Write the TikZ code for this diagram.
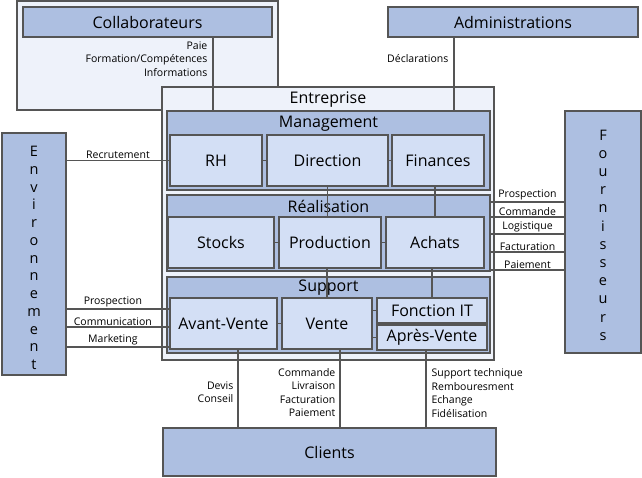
\documentclass[tikz,border=0pt]{standalone}
\usepackage{fontspec}
\setmainfont{Open Sans}
\usepackage{tikz}
\usetikzlibrary{positioning}

\definecolor{paleblue}{HTML}{EEF2FA}
\definecolor{midblue}{HTML}{ADBFE1}
\definecolor{lightblue}{HTML}{D3DFF5}
\definecolor{edgegray}{HTML}{555555}

\begin{document}
\begin{tikzpicture}[
    x=1pt, y=-1pt,
    outerbox/.style={draw=edgegray, fill=paleblue, line width=1.3pt, inner sep=0pt},
    groupbox/.style={draw=edgegray, fill=midblue, line width=1.3pt, inner sep=0pt, font=\fontsize{16}{18}\selectfont},
    unitbox/.style={draw=edgegray, fill=lightblue, line width=1.3pt, inner sep=0pt, minimum height=51pt, font=\fontsize{16}{18}\selectfont},
    halfbox/.style={unitbox, minimum height=25pt},
    grouptitle/.style={font=\fontsize{16}{18}\selectfont, inner sep=0pt, text height=12pt, text depth=3pt},
    lettercol/.style={align=center, inner sep=0pt},
    linklabel/.style={font=\fontsize{10.5}{13.5}\selectfont, inner sep=1pt},
    link/.style={draw=edgegray, line width=1.3pt}
]
\useasboundingbox (0,0) rectangle (642,477);

% Outer boxes
\node[outerbox, minimum width=261pt, minimum height=109pt] (collab) at (147.5,55.5) {};
\node[outerbox, minimum width=332pt, minimum height=273pt] (entreprise) at (328,223.5) {};
\node[grouptitle, below=5pt of entreprise.north] {Entreprise};

% Partners
\node[groupbox, minimum width=249pt, minimum height=30pt] (collabhead) at (147.5,22) {Collaborateurs};
\node[groupbox, minimum width=250pt, minimum height=30pt] (adminhead) at (513,22) {Administrations};
\node[groupbox, minimum width=64pt, minimum height=242pt] (environnement) at (34,254) {};
\node[lettercol, font=\fontsize{14.5}{17.75}\selectfont] at ([yshift=-4pt]environnement.center) {E\\n\\v\\i\\r\\o\\n\\n\\e\\m\\e\\n\\t};
\node[groupbox, minimum width=76pt, minimum height=242pt] (fournisseurs) at (603,232) {};
\node[lettercol, font=\fontsize{14.5}{18.2}\selectfont] at ([yshift=-3pt]fournisseurs.center) {F\\o\\u\\r\\n\\i\\s\\s\\e\\u\\r\\s};
\node[groupbox, minimum width=333pt, minimum height=48pt] (clients) at (329.5,452) {Clients};

% Management
\node[groupbox, minimum width=323pt, minimum height=79pt] (mgmt) at (328.5,150.5) {};
\node[grouptitle, below=5pt of mgmt.north] {Management};
\node[unitbox, minimum width=92pt] (rh) at (216,160.5) {RH};
\node[unitbox, minimum width=121pt] (direction) at (327.5,160.5) {Direction};
\node[unitbox, minimum width=92pt] (finances) at (438,160.5) {Finances};

% Realisation
\node[groupbox, minimum width=323pt, minimum height=76pt] (realisation) at (328.5,233) {};
\node[grouptitle, below=6pt of realisation.north] {Réalisation};
\node[unitbox, minimum width=106pt] (stocks) at (221,242.5) {Stocks};
\node[unitbox, minimum width=102pt] (production) at (330,242.5) {Production};
\node[unitbox, minimum width=98pt] (achats) at (435,242.5) {Achats};

% Support
\node[groupbox, minimum width=323pt, minimum height=76pt] (support) at (328.5,315) {};
\node[grouptitle, below=3pt of support.north] {Support};
\node[unitbox, minimum width=107pt] (avantvente) at (223.5,323.5) {Avant-Vente};
\node[unitbox, minimum width=90pt] (vente) at (327,323.5) {Vente};
\node[halfbox, minimum width=110pt] (fonctionit) at (432,310.5) {Fonction IT};
\node[halfbox, minimum width=110pt] (apresvente) at (432,337.5) {Après-Vente};

% Internal links
\draw[link] (rh.east) -- (direction.west);
\draw[link] (direction.east) -- (finances.west);
\draw[link] (stocks.east) -- (production.west);
\draw[link] (production.east) -- (achats.west);
\draw[link] (avantvente.east) -- (vente.west);
\draw[link] (vente.east |- fonctionit.west) -- (fonctionit.west);
\draw[link] (vente.east |- apresvente.west) -- (apresvente.west);
\draw[link] (direction.south) -- (direction.south |- production.north);
\draw[link] (achats.north |- finances.south) -- (achats.north);
\draw[link] (vente.north |- production.south) -- (vente.north);
\draw[link] (fonctionit.north |- achats.south) -- (fonctionit.north);

% Collaborateurs and Administrations
\coordinate (collabdrop) at ([xshift=65.5pt]collabhead.south);
\coordinate (admindrop) at ([xshift=-59pt]adminhead.south);
\draw[link] (collabdrop) -- (collabdrop |- mgmt.north)
    node[linklabel, left=4pt, align=right, pos=0.29] {Paie\\Formation/Compétences\\Informations};
\draw[link] (admindrop) -- (admindrop |- mgmt.north)
    node[linklabel, left=4pt, pos=0.29] {Déclarations};

% Environnement
\draw[link] (environnement.east |- rh.west) -- (rh.west) node[linklabel, above, pos=0.5] {Recrutement};
\foreach \dy/\txt in {14.5/Prospection, -3.5/Communication, -23.5/Marketing}{
    \coordinate (envlink) at ([yshift=\dy pt]avantvente.west);
    \draw[link] (environnement.east |- envlink) -- (envlink) node[linklabel, above, pos=0.45] {\txt};
}

% Fournisseurs
\foreach \dy/\txt in {31/Prospection, 16/Commande, -1/Logistique, -19/Facturation, -37/Paiement}{
    \coordinate (fourlink) at ([yshift=\dy pt]realisation.east);
    \draw[link] (fourlink) -- (fournisseurs.west |- fourlink) node[linklabel, above, midway] {\txt};
}

% Clients
\coordinate (avdrop) at ([xshift=14.5pt]avantvente.south);
\coordinate (ventedrop) at ([xshift=13pt]vente.south);
\coordinate (apresdrop) at ([xshift=-6pt]apresvente.south);
\draw[link] (avdrop) -- (avdrop |- clients.north)
    node[linklabel, left=3pt, align=right, pos=0.55] {Devis\\Conseil};
\draw[link] (ventedrop) -- (ventedrop |- clients.north)
    node[linklabel, left=3pt, align=right, pos=0.55] {Commande\\Livraison\\Facturation\\Paiement};
\draw[link] (apresdrop) -- (apresdrop |- clients.north)
    node[linklabel, right=4pt, align=left, pos=0.55] {Support technique\\Rembouresment\\Echange\\Fidélisation};

\end{tikzpicture}
\end{document}
